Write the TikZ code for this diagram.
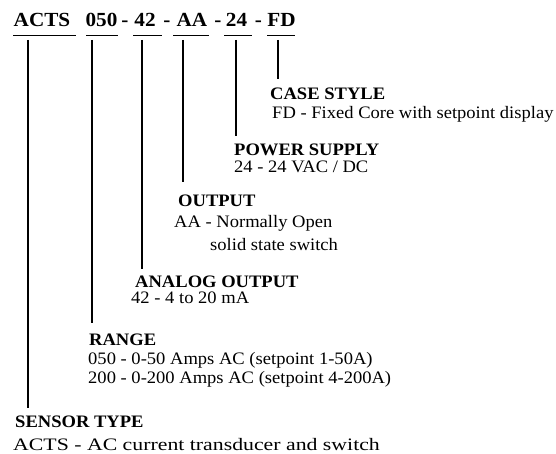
\documentclass[tikz,border=0pt]{standalone}
\usepackage{fontspec}
\setmainfont{Liberation Serif}[FakeStretch=1.06]
\newfontfamily\widefont{Liberation Serif}[FakeStretch=1.245]

\begin{document}
\begin{tikzpicture}[
  x=1pt, y=-1pt,
  code/.style={font=\fontsize{20}{23}\selectfont\bfseries, inner sep=0, anchor=base},
  head/.style={font=\fontsize{17.5}{21}\selectfont\bfseries, inner sep=0, anchor=base west},
  desc/.style={font=\fontsize{17.5}{21}\selectfont, inner sep=0, anchor=base west},
  lead/.style={line width=1.6pt},
  uline/.style={line width=0.8pt}
]
\useasboundingbox (0,0) rectangle (556,454);

\node[code] (c-acts) at (42,27) {ACTS};
\node[code] (c-rng) at (101.5,27) {050};
\node[code] (d1) at (125,27) {-};
\node[code] (c-ao) at (145,27) {42};
\node[code] (d2) at (167,27) {-};
\node[code] (c-out) at (192,27) {AA};
\node[code] (d3) at (218,27) {-};
\node[code] (c-pwr) at (236.5,27) {24};
\node[code] (d4) at (258.5,27) {-};
\node[code] (c-case) at (281.5,27) {FD};

\foreach \a/\b in {13/76, 86/118, 133/162, 173/209, 224/252, 267/295}
  \draw[uline] (\a,35) -- (\b,35);

\node[head] (case) at (270,100) {CASE STYLE};
\node[desc] (case-d) at (272,118.5) {FD - Fixed Core with setpoint display};

\node[head] (power) at (234,156) {POWER SUPPLY};
\node[desc] (power-d) at (234,173) {24 - 24 VAC / DC};

\node[head] (output) at (178,207) {OUTPUT};
\node[desc] (output-d1) at (174,228) {AA - Normally Open};
\node[desc] (output-d2) at (210,251) {solid state switch};

\node[head] (analog) at (135,287) {ANALOG OUTPUT};
\node[desc] (analog-d) at (131,303) {42 - 4 to 20 mA};

\node[head] (range) at (89,345) {RANGE};
\node[desc] (range-d1) at (88,364) {050 - 0-50 Amps AC (setpoint 1-50A)};
\node[desc] (range-d2) at (88,383) {200 - 0-200 Amps AC (setpoint 4-200A)};

\node[head] (sensor) at (15,427) {SENSOR TYPE};
\node[desc] (sensor-d) at (13,450) {\widefont ACTS - AC current transducer and switch};

\coordinate (l-acts) at (28,40);
\coordinate (l-rng) at (92,40);
\coordinate (l-ao) at (142,40);
\coordinate (l-out) at (183,40);
\coordinate (l-pwr) at (236,40);
\coordinate (l-case) at (278,40);

\foreach \c/\h/\g in {l-acts/sensor/7, l-rng/range/10, l-ao/analog/6,
                      l-out/output/13, l-pwr/power/8, l-case/case/9}
  \draw[lead, shorten >=\g pt] (\c) -- (\c |- \h.north);
\end{tikzpicture}
\end{document}
